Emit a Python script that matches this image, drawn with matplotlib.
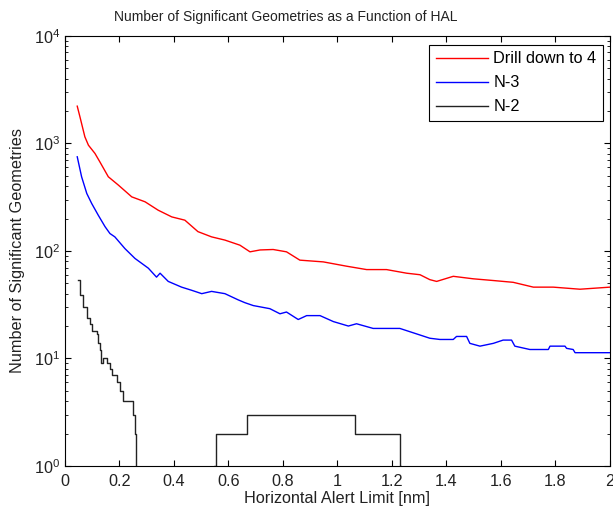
import matplotlib
matplotlib.use("Agg")
import matplotlib.pyplot as plt
from matplotlib import font_manager
from matplotlib.ticker import FuncFormatter, LogLocator

# Red curve: "Drill down to 4"
drill_x = [0.045, 0.055, 0.073, 0.086, 0.11, 0.128, 0.159, 0.196, 0.245,
           0.294, 0.342, 0.392, 0.44, 0.488, 0.538, 0.587, 0.642, 0.679,
           0.716, 0.764, 0.813, 0.862, 0.948, 1.034, 1.107, 1.18, 1.254,
           1.303, 1.339, 1.364, 1.425, 1.498, 1.572, 1.645, 1.719, 1.792,
           1.89, 2.0]
drill_y = [2218, 1762, 1150, 962, 806, 673, 489, 409, 318,
           286, 239, 207, 193, 151, 135, 126, 113, 98,
           102, 103, 98, 82, 79, 72, 67, 67, 62,
           60, 54, 52, 58, 55, 53, 51, 46, 46,
           44, 46]

# Blue curve: "N-3"
n3_x = [0.045, 0.061, 0.08, 0.098, 0.122, 0.147, 0.165, 0.183, 0.22, 0.257,
        0.306, 0.336, 0.349, 0.379, 0.428, 0.465, 0.502, 0.538, 0.587,
        0.636, 0.66, 0.691, 0.752, 0.789, 0.813, 0.856, 0.887, 0.936,
        0.985, 1.04, 1.07, 1.131, 1.229, 1.303, 1.339, 1.376, 1.425,
        1.437, 1.474, 1.486, 1.523, 1.572, 1.608, 1.639, 1.651, 1.706,
        1.774, 1.78, 1.835, 1.841, 1.865, 1.872, 2.0]
n3_y = [750, 489, 342, 276, 215, 168, 145, 135, 105, 85,
        69, 57, 62, 52, 46, 43, 40, 42, 40,
        35, 33, 31, 29, 26, 27, 23, 25, 25,
        22, 20, 21, 19, 19, 16.5, 15.4, 15, 15,
        16, 16, 13.8, 13, 13.8, 14.8, 14.8, 13, 12.1,
        12.1, 13, 13, 12.4, 12.1, 11.3, 11.3]

# Black curve: "N-2" (integer counts, zero where the line leaves the plot)
n2_x = [0.046, 0.055, 0.067, 0.08, 0.092, 0.098, 0.116, 0.122, 0.128,
        0.132, 0.141, 0.153, 0.165, 0.171, 0.19, 0.202, 0.214, 0.251,
        0.257, 0.26, 0.548, 0.555, 0.667, 1.065, 1.23, 1.233, 2.0]
n2_y = [54, 39, 30, 24, 21, 18, 17, 14, 12,
        9, 10, 9, 8, 7, 6, 5, 4, 3,
        2, 0, 1, 2, 3, 2, 1, 0, 0]

series_labels = ["Drill down to 4", "N-3", "N-2"]
x_ticks = [0, 0.2, 0.4, 0.6, 0.8, 1.0, 1.2, 1.4, 1.6, 1.8, 2.0]
title_text = "Number of Significant Geometries as a Function of HAL"


def title_family():
    # The title in the original is a narrow face; use one if it is installed
    names = {f.name for f in font_manager.fontManager.ttflist}
    if "Liberation Sans Narrow" in names:
        return "Liberation Sans Narrow"
    return "Liberation Sans"


def make_chart():
    plt.rcParams["font.family"] = ["Liberation Sans", "DejaVu Sans"]
    plt.rcParams["font.size"] = 11.7
    plt.rcParams["mathtext.fontset"] = "custom"
    plt.rcParams["mathtext.rm"] = "Liberation Sans"
    plt.rcParams["mathtext.it"] = "Liberation Sans:italic"
    plt.rcParams["mathtext.default"] = "regular"

    text_color = "#222222"

    fig = plt.figure(figsize=(6.13, 5.12), dpi=100)
    ax = fig.add_axes([0.106, 0.090, 0.889, 0.840])

    ax.plot(drill_x, drill_y, color="#ff0000", lw=1.0, label=series_labels[0])
    ax.plot(n3_x, n3_y, color="#0000ff", lw=1.0, label=series_labels[1])
    ax.plot(n2_x, n2_y, color="#222222", lw=1.0, drawstyle="steps-post",
            label=series_labels[2])

    ax.set_yscale("log")
    ax.set_xlim(0, 2)
    ax.set_ylim(1, 1e4)

    ax.set_xticks(x_ticks)
    ax.xaxis.set_major_formatter(FuncFormatter(lambda v, p: f"{v:g}"))
    ax.yaxis.set_major_locator(LogLocator(base=10, numticks=10))
    ax.yaxis.set_minor_locator(LogLocator(base=10, subs=range(2, 10), numticks=10))

    # MATLAB look: ticks inside, on all four sides
    ax.tick_params(which="both", direction="in", top=True, right=True,
                   colors="black", labelcolor=text_color)
    ax.tick_params(which="major", length=4, width=0.8)
    ax.tick_params(which="minor", length=2.5, width=0.6)
    ax.tick_params(axis="x", which="major", pad=6)
    for spine in ax.spines.values():
        spine.set_color("black")
        spine.set_linewidth(0.8)

    title = ax.set_title(title_text, color=text_color, family=title_family(),
                         fontsize=11.0, x=0.405, y=1.0, pad=11)
    # scale the title so that it spans about 342 px, as in the original
    fig.canvas.draw()
    width = title.get_window_extent().width
    title.set_fontsize(11.0 * 342.0 / width)

    ax.set_xlabel("Horizontal Alert Limit [nm]", color=text_color, labelpad=1)
    ax.set_ylabel("Number of Significant Geometries", color=text_color,
                  labelpad=6)

    leg = ax.legend(loc="upper right", fancybox=False, framealpha=1,
                    edgecolor="black", handlelength=3.25, handletextpad=0.3,
                    borderpad=0.4, labelspacing=0.55, borderaxespad=0,
                    bbox_to_anchor=(0.987, 0.979))
    leg.get_frame().set_linewidth(0.8)

    fig.savefig("out.png", dpi=100, facecolor="white")
    plt.close(fig)


if __name__ == "__main__":
    make_chart()
